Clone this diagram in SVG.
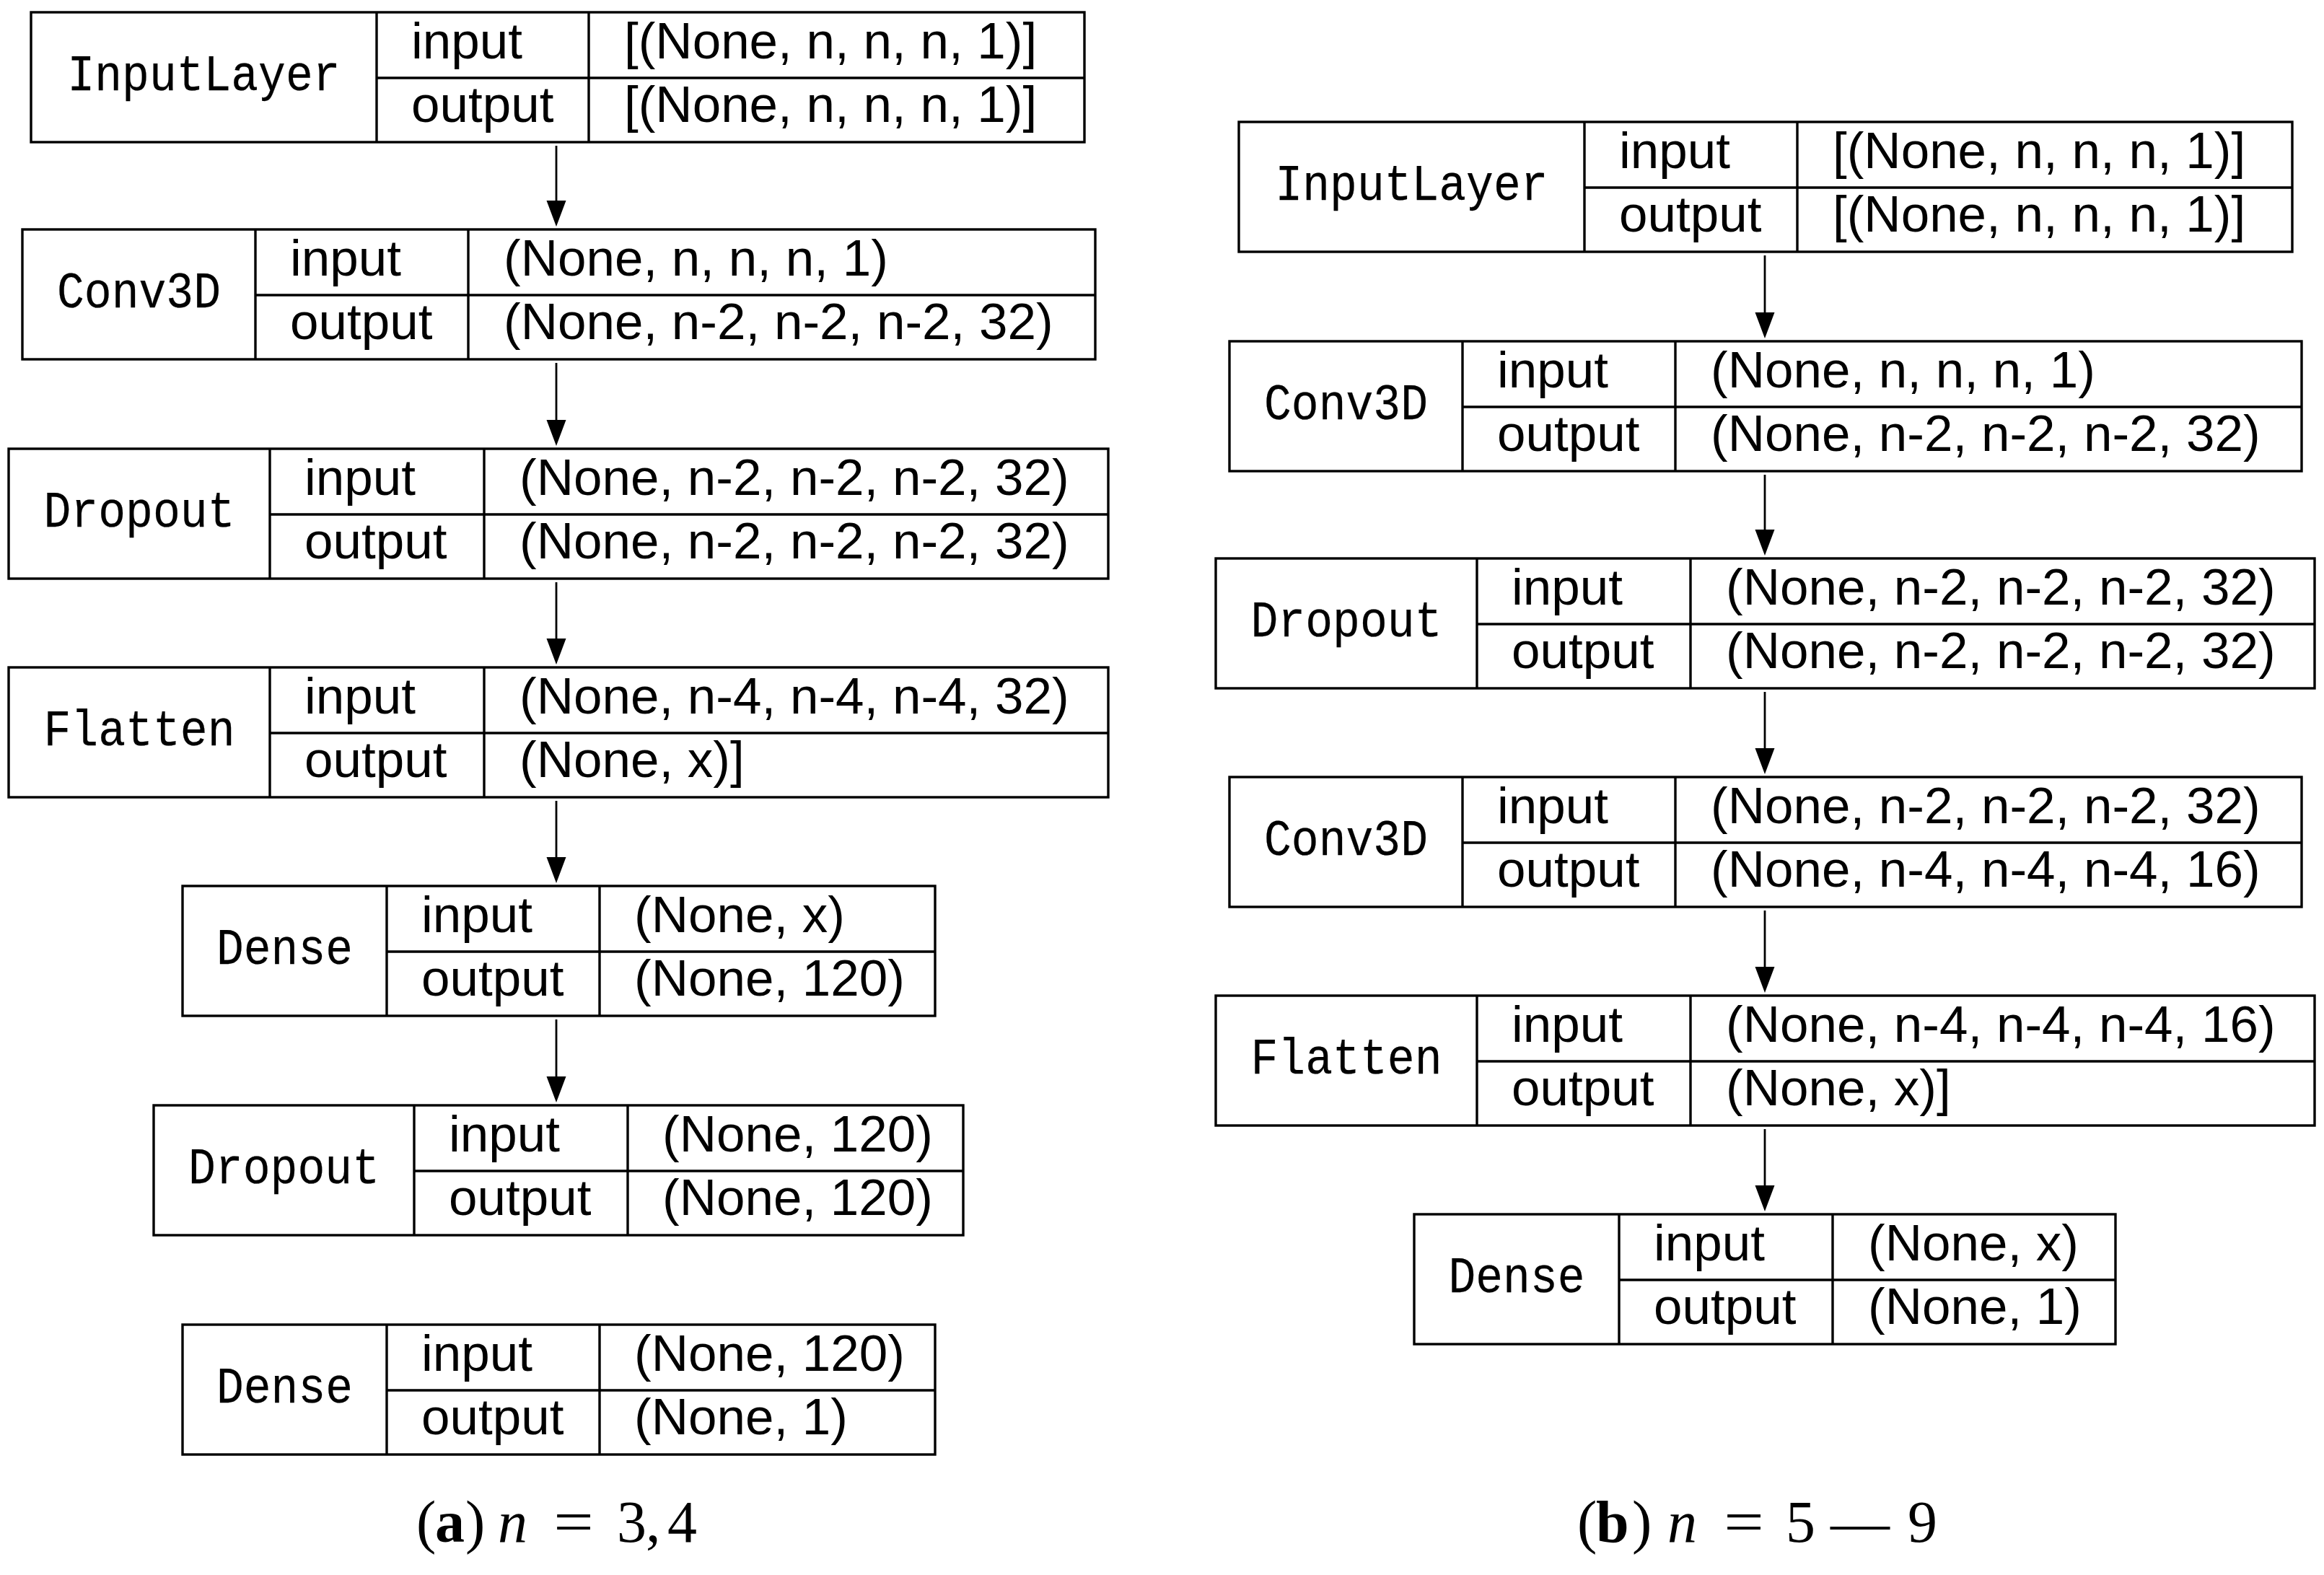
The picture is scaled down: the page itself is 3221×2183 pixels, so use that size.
<svg xmlns="http://www.w3.org/2000/svg" width="3221" height="2183" viewBox="0 0 3221 2183">
<style>
.b{fill:none;stroke:#000;stroke-width:3.4}
.m{font-family:"Liberation Mono","DejaVu Sans Mono",monospace;font-size:71px;text-anchor:middle;fill:#000;stroke:#000;stroke-width:0.25}
.s{font-family:"Liberation Sans",Arial,sans-serif;font-size:71px;fill:#000}
.c{font-family:"Liberation Serif","Times New Roman",serif;font-size:82px;fill:#000}
.e{stroke:#000;stroke-width:2.8;fill:none;marker-end:url(#ah)}
</style>
<defs>
<marker id="ah" markerUnits="userSpaceOnUse" markerWidth="36" markerHeight="28" refX="25" refY="13.5" orient="auto" overflow="visible">
<path d="M0 0L36 13.5L0 27z" fill="#000"/>
</marker>
</defs>
<rect width="3221" height="2183" fill="#fff"/>

<g id="L1">
<rect class="b" x="43" y="17" width="1460" height="180"/>
<path class="b" d="M522 17V197M816 17V197M522 108H1503"/>
<text class="m" x="282.5" y="125" textLength="378" lengthAdjust="spacingAndGlyphs">InputLayer</text>
<text class="s" x="570" y="81">input</text>
<text class="s" x="570" y="169">output</text>
<text class="s" x="865" y="81">[(None, n, n, n, 1)]</text>
<text class="s" x="865" y="169">[(None, n, n, n, 1)]</text>
</g>
<g id="L2">
<rect class="b" x="31" y="318" width="1487" height="180"/>
<path class="b" d="M354 318V498M649 318V498M354 409H1518"/>
<text class="m" x="192.5" y="426" textLength="227" lengthAdjust="spacingAndGlyphs">Conv3D</text>
<text class="s" x="402" y="382">input</text>
<text class="s" x="402" y="470">output</text>
<text class="s" x="698" y="382">(None, n, n, n, 1)</text>
<text class="s" x="698" y="470">(None, n-2, n-2, n-2, 32)</text>
</g>
<g id="L3">
<rect class="b" x="12" y="622" width="1524" height="180"/>
<path class="b" d="M374 622V802M671 622V802M374 713H1536"/>
<text class="m" x="193" y="730" textLength="265" lengthAdjust="spacingAndGlyphs">Dropout</text>
<text class="s" x="422" y="686">input</text>
<text class="s" x="422" y="774">output</text>
<text class="s" x="720" y="686">(None, n-2, n-2, n-2, 32)</text>
<text class="s" x="720" y="774">(None, n-2, n-2, n-2, 32)</text>
</g>
<g id="L4">
<rect class="b" x="12" y="925" width="1524" height="180"/>
<path class="b" d="M374 925V1105M671 925V1105M374 1016H1536"/>
<text class="m" x="193" y="1033" textLength="265" lengthAdjust="spacingAndGlyphs">Flatten</text>
<text class="s" x="422" y="989">input</text>
<text class="s" x="422" y="1077">output</text>
<text class="s" x="720" y="989">(None, n-4, n-4, n-4, 32)</text>
<text class="s" x="720" y="1077">(None, x)]</text>
</g>
<g id="L5">
<rect class="b" x="253" y="1228" width="1043" height="180"/>
<path class="b" d="M536 1228V1408M831 1228V1408M536 1319H1296"/>
<text class="m" x="394.5" y="1336" textLength="189" lengthAdjust="spacingAndGlyphs">Dense</text>
<text class="s" x="584" y="1292">input</text>
<text class="s" x="584" y="1380">output</text>
<text class="s" x="879" y="1292">(None, x)</text>
<text class="s" x="879" y="1380">(None, 120)</text>
</g>
<g id="L6">
<rect class="b" x="213" y="1532" width="1122" height="180"/>
<path class="b" d="M574 1532V1712M870 1532V1712M574 1623H1335"/>
<text class="m" x="393.5" y="1640" textLength="265" lengthAdjust="spacingAndGlyphs">Dropout</text>
<text class="s" x="622" y="1596">input</text>
<text class="s" x="622" y="1684">output</text>
<text class="s" x="918" y="1596">(None, 120)</text>
<text class="s" x="918" y="1684">(None, 120)</text>
</g>
<g id="L7">
<rect class="b" x="253" y="1836" width="1043" height="180"/>
<path class="b" d="M536 1836V2016M831 1836V2016M536 1927H1296"/>
<text class="m" x="394.5" y="1944" textLength="189" lengthAdjust="spacingAndGlyphs">Dense</text>
<text class="s" x="584" y="1900">input</text>
<text class="s" x="584" y="1988">output</text>
<text class="s" x="879" y="1900">(None, 120)</text>
<text class="s" x="879" y="1988">(None, 1)</text>
</g>

<g id="R1">
<rect class="b" x="1717" y="169" width="1460" height="180"/>
<path class="b" d="M2196 169V349M2491 169V349M2196 260H3177"/>
<text class="m" x="1956.5" y="277" textLength="378" lengthAdjust="spacingAndGlyphs">InputLayer</text>
<text class="s" x="2244" y="233">input</text>
<text class="s" x="2244" y="321">output</text>
<text class="s" x="2540" y="233">[(None, n, n, n, 1)]</text>
<text class="s" x="2540" y="321">[(None, n, n, n, 1)]</text>
</g>
<g id="R2">
<rect class="b" x="1704" y="473" width="1486" height="180"/>
<path class="b" d="M2027 473V653M2322 473V653M2027 564H3190"/>
<text class="m" x="1865.5" y="581" textLength="227" lengthAdjust="spacingAndGlyphs">Conv3D</text>
<text class="s" x="2075" y="537">input</text>
<text class="s" x="2075" y="625">output</text>
<text class="s" x="2371" y="537">(None, n, n, n, 1)</text>
<text class="s" x="2371" y="625">(None, n-2, n-2, n-2, 32)</text>
</g>
<g id="R3">
<rect class="b" x="1685" y="774" width="1523" height="180"/>
<path class="b" d="M2047 774V954M2343 774V954M2047 865H3208"/>
<text class="m" x="1866" y="882" textLength="265" lengthAdjust="spacingAndGlyphs">Dropout</text>
<text class="s" x="2095" y="838">input</text>
<text class="s" x="2095" y="926">output</text>
<text class="s" x="2392" y="838">(None, n-2, n-2, n-2, 32)</text>
<text class="s" x="2392" y="926">(None, n-2, n-2, n-2, 32)</text>
</g>
<g id="R4">
<rect class="b" x="1704" y="1077" width="1486" height="180"/>
<path class="b" d="M2027 1077V1257M2322 1077V1257M2027 1168H3190"/>
<text class="m" x="1865.5" y="1185" textLength="227" lengthAdjust="spacingAndGlyphs">Conv3D</text>
<text class="s" x="2075" y="1141">input</text>
<text class="s" x="2075" y="1229">output</text>
<text class="s" x="2371" y="1141">(None, n-2, n-2, n-2, 32)</text>
<text class="s" x="2371" y="1229">(None, n-4, n-4, n-4, 16)</text>
</g>
<g id="R5">
<rect class="b" x="1685" y="1380" width="1523" height="180"/>
<path class="b" d="M2047 1380V1560M2343 1380V1560M2047 1471H3208"/>
<text class="m" x="1866" y="1488" textLength="265" lengthAdjust="spacingAndGlyphs">Flatten</text>
<text class="s" x="2095" y="1444">input</text>
<text class="s" x="2095" y="1532">output</text>
<text class="s" x="2392" y="1444">(None, n-4, n-4, n-4, 16)</text>
<text class="s" x="2392" y="1532">(None, x)]</text>
</g>
<g id="R6">
<rect class="b" x="1960" y="1683" width="972" height="180"/>
<path class="b" d="M2244 1683V1863M2540 1683V1863M2244 1774H2932"/>
<text class="m" x="2102" y="1791" textLength="189" lengthAdjust="spacingAndGlyphs">Dense</text>
<text class="s" x="2292" y="1747">input</text>
<text class="s" x="2292" y="1835">output</text>
<text class="s" x="2589" y="1747">(None, x)</text>
<text class="s" x="2589" y="1835">(None, 1)</text>
</g>

<g id="connectors">
<line class="e" x1="771" y1="202" x2="771" y2="303"/>
<line class="e" x1="771" y1="503" x2="771" y2="607"/>
<line class="e" x1="771" y1="807" x2="771" y2="910"/>
<line class="e" x1="771" y1="1110" x2="771" y2="1213"/>
<line class="e" x1="771" y1="1413" x2="771" y2="1517"/>
<line class="e" x1="2446" y1="354" x2="2446" y2="458"/>
<line class="e" x1="2446" y1="658" x2="2446" y2="759"/>
<line class="e" x1="2446" y1="959" x2="2446" y2="1062"/>
<line class="e" x1="2446" y1="1262" x2="2446" y2="1365"/>
<line class="e" x1="2446" y1="1565" x2="2446" y2="1668"/>
</g>

<g id="caption-a">
<text class="c" x="577" y="2137">(</text>
<text class="c" x="603" y="2137" font-weight="bold">a</text>
<text class="c" x="645" y="2137">)</text>
<text class="c" x="690" y="2137" font-style="italic">n</text>
<text class="c" x="795" y="2137" text-anchor="middle" transform="translate(795 0) scale(1.2 1) translate(-795 0)">=</text>
<text class="c" x="855" y="2137">3</text>
<text class="c" x="895" y="2137">,</text>
<text class="c" x="925" y="2137">4</text>
</g>
<g id="caption-b">
<text class="c" x="2186" y="2137">(</text>
<text class="c" x="2212" y="2137" font-weight="bold">b</text>
<text class="c" x="2262" y="2137">)</text>
<text class="c" x="2311" y="2137" font-style="italic">n</text>
<text class="c" x="2417" y="2137" text-anchor="middle" transform="translate(2417 0) scale(1.2 1) translate(-2417 0)">=</text>
<text class="c" x="2475" y="2137">5</text>
<text class="c" x="2537" y="2137">—</text>
<text class="c" x="2644" y="2137">9</text>
</g>
</svg>
